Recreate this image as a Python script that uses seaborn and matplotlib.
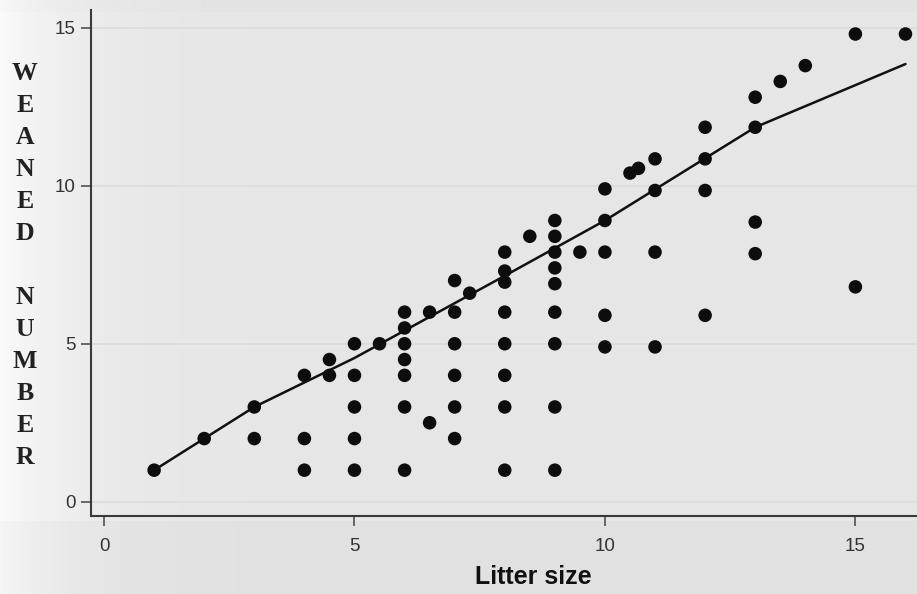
import numpy as np
import pandas as pd
import matplotlib
matplotlib.use("Agg")
import matplotlib.pyplot as plt
import seaborn as sns

# litter size vs number weaned (one entry per dot)
litter = [1,
          2,
          3, 3,
          4, 4, 4,
          4.5, 4.5,
          5, 5, 5, 5, 5,
          5.5,
          6, 6, 6, 6, 6, 6, 6,
          6.5, 6.5,
          7, 7, 7, 7, 7, 7,
          7.3,
          8, 8, 8, 8, 8, 8, 8, 8,
          8.5,
          9, 9, 9, 9, 9, 9, 9, 9, 9,
          9.5,
          10, 10, 10, 10, 10,
          10.5, 10.67,
          11, 11, 11, 11,
          12, 12, 12, 12,
          13, 13, 13, 13,
          13.5, 14,
          15, 15,
          16]
weaned = [1,
          2,
          3, 2,
          4, 2, 1,
          4.5, 4,
          5, 4, 3, 2, 1,
          5,
          6, 5.5, 5, 4.5, 4, 3, 1,
          6, 2.5,
          7, 6, 5, 4, 3, 2,
          6.6,
          7.9, 7.3, 6.95, 6, 5, 4, 3, 1,
          8.4,
          8.9, 8.4, 7.9, 7.4, 6.9, 6, 5, 3, 1,
          7.9,
          9.9, 8.9, 7.9, 5.9, 4.9,
          10.4, 10.55,
          10.85, 9.85, 7.9, 4.9,
          11.85, 10.85, 9.85, 5.9,
          12.8, 11.85, 8.85, 7.85,
          13.3, 13.8,
          14.8, 6.8,
          14.8]

# smoothed trend line (knots)
trend_x = [1, 3, 5, 8, 10, 13, 16]
trend_y = [1, 3, 4.55, 7.15, 8.9, 11.85, 13.85]

ylabel_txt = "W\nE\nA\nN\nE\nD\n\nN\nU\nM\nB\nE\nR"

assert len(litter) == len(weaned)
df = pd.DataFrame({"litter": litter, "weaned": weaned})
trend = pd.DataFrame({"litter": trend_x, "weaned": trend_y})

sns.set_style("white")
plt.rcParams['font.family'] = ['Liberation Sans', 'DejaVu Sans']

fig = plt.figure(figsize=(9.17, 5.94), dpi=100)

# scanned-paper background: light grey, whiter towards the left edge
W, H = 917, 594
xx = np.arange(W)[None, :]
yy = np.arange(H)[:, None]
bg = 0.9 + 0.08*np.exp(-xx/70.0) + 0*yy
bg = np.where(yy > 520, bg - 0.02, bg)
bg = np.where(yy < 12, bg - 0.01, bg)
fig.figimage(bg, xo=0, yo=0, origin='upper', cmap='gray', vmin=0, vmax=1, zorder=-10)

ax = fig.add_axes([91/917, 78/594, 1-91/917, (516-10)/594])
ax.set_zorder(5)
ax.patch.set_alpha(0)

sns.lineplot(data=trend, x="litter", y="weaned", ax=ax, color="#111111",
             linewidth=1.8, sort=True, estimator=None, zorder=2)
sns.scatterplot(data=df, x="litter", y="weaned", ax=ax, color="#0d0d0d",
                s=95, edgecolor="none", linewidth=0, zorder=3)

ax.set_xlim(-0.26, 16.23)
ax.set_ylim(-0.45, 15.56)
ax.set_xticks([0, 5, 10, 15])
ax.set_yticks([0, 5, 10, 15])
ax.grid(axis='y', color='#dbdbdb', linewidth=1.2, zorder=0)
ax.set_axisbelow(True)

for s in ['top', 'right']:
    ax.spines[s].set_visible(False)
for s in ['left', 'bottom']:
    ax.spines[s].set_color('#3a3a3a')
    ax.spines[s].set_linewidth(1.5)

ax.tick_params(axis='both', direction='out', length=7, width=1.1, color='#444444',
               labelsize=13.5, labelcolor='#333333')
ax.tick_params(axis='x', pad=9)
ax.tick_params(axis='y', pad=4, left=True)
ax.tick_params(axis='x', bottom=True)

ax.set_xlabel("Litter size", fontsize=18, fontweight='bold', color='#111111')
ax.xaxis.set_label_coords(0.536, -0.097)

ax.set_ylabel(ylabel_txt, rotation=0, fontsize=18.5, fontweight='bold',
              family=['Liberation Serif', 'DejaVu Serif'], color='#222222',
              ha='center', va='center', linespacing=1.5)
ax.yaxis.set_label_coords((25-91)/826, (516-265)/506)

fig.savefig("out.png", dpi=100)
